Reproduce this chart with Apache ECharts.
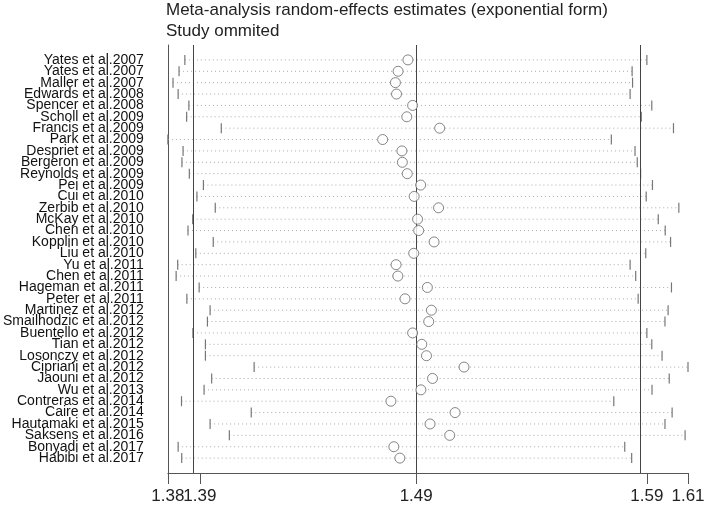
<!DOCTYPE html>
<html><head><meta charset="utf-8">
<script src="https://cdn.jsdelivr.net/npm/echarts@6/dist/echarts.min.js"></script>
<style>html,body{margin:0;padding:0;background:#fff}#c{width:708px;height:505px}</style>
</head><body><div id="c"></div>
<script>
const studies = ["Yates et al.2007","Yates et al.2007","Maller et al.2007","Edwards et al.2008","Spencer et al.2008","Scholl et al.2009","Francis et al.2009","Park et al.2009","Despriet et al.2009","Bergeron et al.2009","Reynolds et al.2009","Pei et al.2009","Cui et al.2010","Zerbib et al.2010","McKay et al.2010","Chen et al.2010","Kopplin et al.2010","Liu et al.2010","Yu et al.2011","Chen et al.2011","Hageman et al.2011","Peter et al.2011","Martinez et al.2012","Smailhodzic et al.2012","Buentello et al.2012","Tian et al.2012","Losonczy et al.2012","Cipriani et al.2012","Jaouni et al.2012","Wu et al.2013","Contreras et al.2014","Caire et al.2014","Hautamaki et al.2015","Saksens et al.2016","Bonyadi et al.2017","Habibi et al.2017"];
const estimate = [1.4861,1.4817,1.4805,1.4810,1.4882,1.4856,1.5003,1.4748,1.4834,1.4836,1.4858,1.4918,1.4889,1.4998,1.4904,1.4909,1.4978,1.4887,1.4808,1.4816,1.4948,1.4848,1.4966,1.4954,1.4882,1.4923,1.4944,1.5112,1.4971,1.4919,1.4785,1.5072,1.4960,1.5048,1.4798,1.4825];
const lower = [1.3863,1.3837,1.3810,1.3833,1.3881,1.3871,1.4026,1.3787,1.3855,1.3850,1.3883,1.3946,1.3917,1.3999,1.3898,1.3877,1.3990,1.3912,1.3831,1.3824,1.3927,1.3872,1.3976,1.3964,1.3899,1.3955,1.3955,1.4173,1.3983,1.3949,1.3848,1.4160,1.3976,1.4062,1.3833,1.3849];
const upper = [1.5930,1.5864,1.5866,1.5855,1.5952,1.5905,1.6049,1.5771,1.5877,1.5887,1.5902,1.5955,1.5927,1.6073,1.5981,1.6012,1.6036,1.5925,1.5855,1.5880,1.6040,1.5891,1.6025,1.6011,1.5930,1.5952,1.5998,1.6114,1.6030,1.5953,1.5782,1.6043,1.6011,1.6101,1.5831,1.5862];
const overall = {lower: 1.3930, estimate: 1.4898, upper: 1.5930};
const xMin = Math.min(...lower), xMax = Math.max(...upper);
const xTicks = [xMin, overall.lower, overall.estimate, overall.upper, xMax];
const rows = studies.map((s,i)=>i+1);
const oddRows = rows.filter(r=>r%2===1), evenRows = rows.filter(r=>r%2===0);

const chart = echarts.init(document.getElementById('c'));
const ff = '"Liberation Sans", Arial, sans-serif';
const xLabelStyle = {formatter:v=>v.toFixed(2),fontFamily:ff,fontSize:17,color:'#222',margin:15,hideOverlap:false,showMinLabel:true,showMaxLabel:true};
const yLabelStyle = {hideOverlap:false,showMinLabel:true,showMaxLabel:true,formatter:v=>studies[Math.round(v)-1]||'',fontFamily:ff,fontSize:14,color:'#111',margin:24};
const baseX = {type:'value',min:xMin,max:xMax,position:'bottom',splitLine:{show:false}};
const baseY = {type:'value',inverse:true,min:-0.31,max:37.31,position:'left',axisTick:{show:false},splitLine:{show:false}};
chart.setOption({
  animation:false,
  backgroundColor:'#fff',
  title:{text:'Meta-analysis random-effects estimates (exponential form)\nStudy ommited',left:166,top:0,padding:0,
    textStyle:{fontFamily:ff,fontSize:17,fontWeight:'normal',color:'#222',lineHeight:21}},
  grid:{left:162,right:20,top:45,bottom:30},
  xAxis:[
    Object.assign({},baseX,{
      axisLine:{show:true,onZero:false,lineStyle:{color:'#555',width:1}},
      axisTick:{show:true,length:11,customValues:xTicks,lineStyle:{color:'#555'}},
      axisLabel:Object.assign({customValues:[xMin,overall.estimate,xMax]},xLabelStyle)}),
    Object.assign({},baseX,{
      axisLine:{show:false,onZero:false},axisTick:{show:false},
      axisLabel:Object.assign({customValues:[overall.lower,overall.upper]},xLabelStyle)})
  ],
  yAxis:[
    Object.assign({},baseY,{
      axisLine:{show:true,onZero:false,lineStyle:{color:'#555',width:1}},
      axisLabel:Object.assign({customValues:oddRows},yLabelStyle)}),
    Object.assign({},baseY,{
      axisLine:{show:false,onZero:false},
      axisLabel:Object.assign({customValues:evenRows},yLabelStyle)})
  ],
  series:[
    {type:'custom',
     data: rows.map((r,i)=>[lower[i],upper[i],r]),
     renderItem:(params,api)=>{
       const lo=api.coord([api.value(0),api.value(2)]);
       const hi=api.coord([api.value(1),api.value(2)]);
       return {type:'group',children:[
         {type:'line',shape:{x1:lo[0],y1:lo[1],x2:hi[0],y2:hi[1]},style:{stroke:'#aaa',lineWidth:1,lineDash:[1,3]}},
         {type:'line',shape:{x1:lo[0],y1:lo[1]-5,x2:lo[0],y2:lo[1]+5},style:{stroke:'#777',lineWidth:1.2}},
         {type:'line',shape:{x1:hi[0],y1:hi[1]-5,x2:hi[0],y2:hi[1]+5},style:{stroke:'#777',lineWidth:1.2}}
       ]};
     },
     markLine:{silent:true,symbol:['none','none'],label:{show:false},
       lineStyle:{color:'#444',type:'solid',width:1},
       data:[{xAxis:overall.lower},{xAxis:overall.estimate},{xAxis:overall.upper}]}
    },
    {type:'scatter',data:rows.map((r,i)=>[estimate[i],r]),symbol:'circle',symbolSize:10,
     itemStyle:{color:'#fff',borderColor:'#666',borderWidth:1},z:5}
  ]
});
</script></body></html>
